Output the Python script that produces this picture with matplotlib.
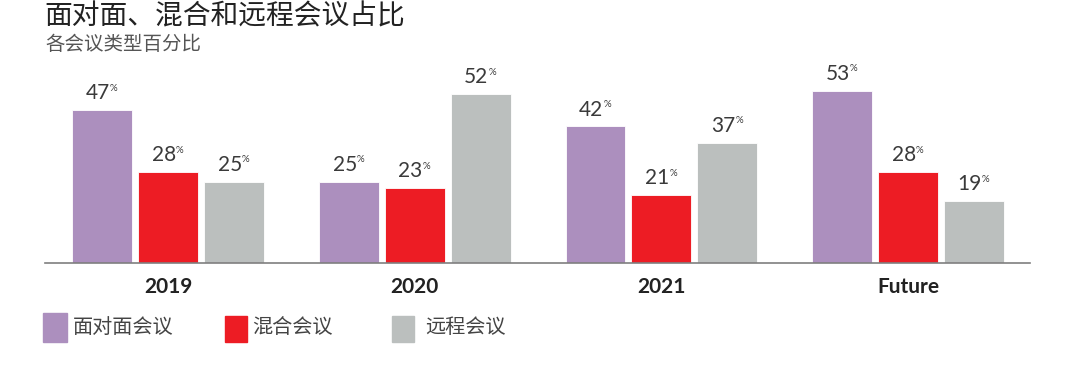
import numpy as np
import matplotlib
matplotlib.use('Agg')
import matplotlib.pyplot as plt
from matplotlib.patches import Rectangle

plt.rcParams['font.family'] = ['Lato', 'Noto Sans CJK SC', 'DejaVu Sans']

categories = ['2019', '2020', '2021', 'Future']
series_names = ['面对面会议', '混合会议', '远程会议']
in_person = [47, 25, 42, 53]
hybrid = [28, 23, 21, 28]
remote = [25, 52, 37, 19]
colors = ['#AC8FBE', '#ED1C24', '#BBBFBE']

W, H = 1080, 365
fig = plt.figure(figsize=(W / 100, H / 100), dpi=100)

# axes placed in pixel terms: baseline at y=263, spans x 45..1030
ax = fig.add_axes([45 / W, (H - 263) / H, 985 / W, 195 / H])
x = np.arange(len(categories))
width = 0.243
offset = 0.267
for i, (vals, col) in enumerate(zip([in_person, hybrid, remote], colors)):
    pos = x + (i - 1) * offset
    ax.bar(pos, vals, width=width, color=col, edgecolor='white', linewidth=0.6)
    for px, v in zip(pos, vals):
        t = ax.annotate(str(v), xy=(px, v), xytext=(-3, 5), textcoords='offset points',
                        ha='center', va='bottom', fontsize=15, color='#3a3a3a')
        ax.annotate('%', xy=(1, 1), xycoords=t, xytext=(0, -0.5),
                    textcoords='offset points', ha='left', va='top',
                    fontsize=7, color='#3a3a3a')

ax.set_xlim(-0.4986, 3.4945)
ax.set_ylim(0, 60)
for s in ['top', 'right', 'left']:
    ax.spines[s].set_visible(False)
ax.spines['bottom'].set_color('#7f7f7f')
ax.spines['bottom'].set_linewidth(1.2)
ax.set_yticks([])
ax.set_xticks(x)
ax.set_xticklabels(categories, fontsize=15, fontweight='bold', color='#222222')
ax.tick_params(axis='x', length=0, pad=10)

# title and subtitle
fig.text(44 / W, 1 - 16 / H, '面对面、混合和远程会议占比', fontsize=20,
         color='#222222', va='center', ha='left')
fig.text(45 / W, 1 - 44 / H, '各会议类型百分比', fontsize=14,
         color='#555555', va='center', ha='left')

# legend
legend_boxes = [(43, 313, 24, 29), (225, 316, 22, 26), (392, 316, 22, 26)]
legend_text_x = [73, 252, 425]
for (bx, by, bw, bh), col, name, tx in zip(legend_boxes, colors, series_names, legend_text_x):
    fig.patches.append(Rectangle((bx / W, 1 - (by + bh) / H), bw / W, bh / H,
                                 transform=fig.transFigure, color=col))
    fig.text(tx / W, 1 - 327 / H, name, fontsize=14.5, color='#444444',
             va='center', ha='left')

fig.savefig('out.png', dpi=100)
